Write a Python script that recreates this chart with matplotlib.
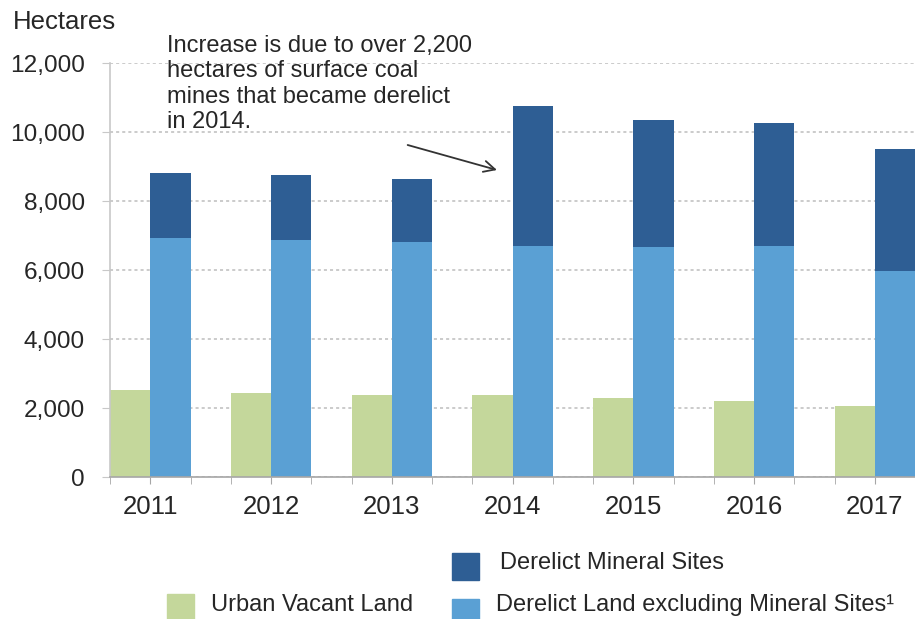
import numpy as np
import matplotlib
matplotlib.use("Agg")
import matplotlib.pyplot as plt
from matplotlib.patches import Rectangle

# values (hectares)
years = ["2011", "2012", "2013", "2014", "2015", "2016", "2017"]
urban_vacant = [2535, 2440, 2390, 2390, 2300, 2190, 2060]
derelict_excl_mineral = [6940, 6880, 6820, 6690, 6660, 6690, 5980]
derelict_mineral = [1870, 1870, 1830, 4060, 3680, 3560, 3530]

GREEN = "#C4D79B"
LIGHT = "#5AA0D4"
DARK = "#2E5E94"
TEXT = "#262626"

plt.rcParams["font.family"] = ["Liberation Sans", "DejaVu Sans"]
FS = 17       # annotation and legend
FS_AX = 18.5  # year labels and unit label
FS_Y = 17.6   # y tick labels

W, H = 915, 619
fig = plt.figure(figsize=(W / 100, H / 100), dpi=100)


def fx(px):
    return px / W


def fy(py):
    return 1 - py / H


ax = fig.add_axes([fx(110), fy(477), fx(915 - 110), (477 - 63) / H])

x = np.arange(len(years))
bw = 1 / 3
ax.bar(x - bw / 2, urban_vacant, width=bw, color=GREEN, zorder=2)
ax.bar(x + bw / 2, derelict_excl_mineral, width=bw, color=LIGHT, zorder=2)
ax.bar(x + bw / 2, derelict_mineral, width=bw, bottom=derelict_excl_mineral,
       color=DARK, zorder=2)

ax.set_xlim(-1 / 3, -1 / 3 + (915 - 110) / 121.7)
ax.set_ylim(0, 12000)

ax.set_yticks(np.arange(0, 12001, 2000))
ax.set_yticklabels([f"{v:,}" for v in range(0, 12001, 2000)])
ax.set_xticks(x)
ax.set_xticklabels(years)
ax.set_xticks(np.concatenate([x - bw, x + bw]), minor=True)

ax.yaxis.grid(True, linestyle=(0, (2, 2)), color="#BDBDBD", linewidth=1.1, zorder=0)
ax.set_axisbelow(True)

for s in ["top", "right"]:
    ax.spines[s].set_visible(False)
ax.spines["left"].set_color("#C8C8C8")
ax.spines["left"].set_linewidth(1.2)
ax.spines["bottom"].set_color("#A6A6A6")
ax.spines["bottom"].set_linewidth(1.2)

ax.tick_params(axis="y", length=6, color="#C8C8C8", pad=12, labelsize=FS_Y, labelcolor=TEXT)
ax.tick_params(axis="x", which="both", length=5, color="#A6A6A6", pad=8,
               labelsize=FS_AX, labelcolor=TEXT)

fig.text(fx(13), fy(22), "Hectares", fontsize=FS_AX, color=TEXT, va="center", ha="left")

fig.text(fx(167), fy(35),
         "Increase is due to over 2,200\nhectares of surface coal\n"
         "mines that became derelict\nin 2014.",
         fontsize=FS, color=TEXT, va="top", ha="left", linespacing=1.2)

# arrow pointing at the 2014 bar
ax.annotate("", xy=((500 - 110) / 121.7 - 1 / 3, (477 - 170) / 414 * 12000),
            xytext=((410 - 110) / 121.7 - 1 / 3, (477 - 145) / 414 * 12000),
            arrowprops=dict(arrowstyle="->", color="#333333", lw=1.3,
                            mutation_scale=20, shrinkA=0, shrinkB=0))

# legend drawn by hand to match the layout of the original
legend_items = [
    (GREEN, "Urban Vacant Land", 167, 594, 211, 605),
    (DARK, "Derelict Mineral Sites", 452, 553, 500, 563),
    (LIGHT, "Derelict Land excluding Mineral Sites\u00b9", 452, 599, 496, 605),
]
for col, label, sx, sy, tx, ty in legend_items:
    fig.add_artist(Rectangle((fx(sx), fy(sy + 27)), fx(27), 27 / H,
                             transform=fig.transFigure, color=col, clip_on=False))
    fig.text(fx(tx), fy(ty), label, fontsize=FS, color=TEXT, va="center", ha="left")

fig.savefig("out.png", dpi=100)
